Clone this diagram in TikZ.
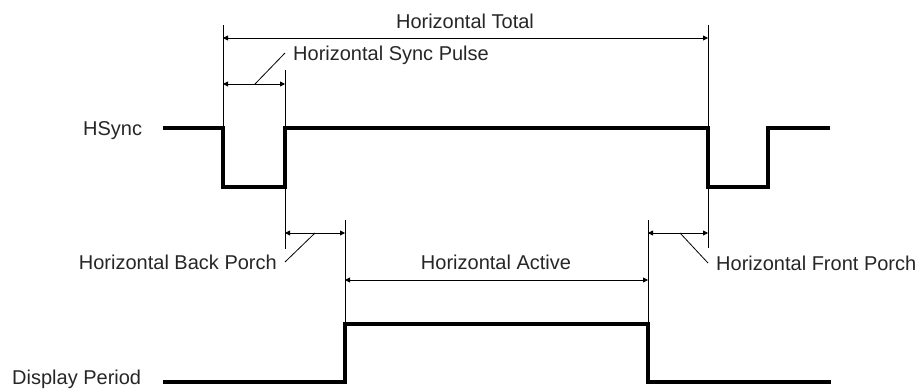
\documentclass[tikz,border=0pt]{standalone}
\usepackage{fontspec}
\setmainfont{Liberation Sans}
\usetikzlibrary{arrows.meta,positioning}

\begin{document}
\begin{tikzpicture}[
	x=1pt, y=-1pt,
	font=\fontsize{20}{24}\selectfont,
	>={Triangle[length=5pt,width=5pt]},
	sig/.style={line width=4pt, line join=miter},
	ext/.style={line width=0.8pt},
	dim/.style={<->, line width=0.8pt},
	lead/.style={line width=0.8pt},
	txt/.style={inner sep=0pt, text=black!85}
]
\path[use as bounding box] (0,0) rectangle (919,389);

% --- Signal labels ---
\node[txt, anchor=base west] (hsync) at (83,135) {HSync};
\node[txt, anchor=base west] (disp) at (12,384.5) {Display Period};

% --- Edge positions ---
\coordinate (hs0) at (163,128);
\coordinate (sf1) at (223,128);
\coordinate (sr1) at (285,128);
\coordinate (sf2) at (708,128);
\coordinate (sr2) at (768,128);
\coordinate (hs1) at (830,128);
\coordinate (dp0) at (163,382);
\coordinate (act0) at (345,324);
\coordinate (act1) at (648,324);
\coordinate (dp1) at (831,382);

% --- Waveforms ---
\draw[sig] (hs0) -- (sf1) -- ++(0,59) -| (sr1) -- (sf2) -- ++(0,59) -| (sr2) -- (hs1);
\draw[sig] (dp0) -| (act0) -- (act1) |- (dp1);

% --- Extension lines ---
\draw[ext] (223,25) -- (223,187);
\draw[ext] (285,70) -- (285,249);
\draw[ext] (708,25) -- (708,248);
\draw[ext] (345,220) -- (act0);
\draw[ext] (648,220) -- (act1);

% --- Dimensions ---
\coordinate (tot0) at (223,38);
\coordinate (tot1) at (708,38);
\coordinate (sp0) at (223,84);
\coordinate (sp1) at (285,84);
\coordinate (bp0) at (285,233);
\coordinate (bp1) at (345,233);
\coordinate (ha0) at (345,280);
\coordinate (ha1) at (648,280);
\coordinate (fp0) at (648,233);
\coordinate (fp1) at (708,233);

\draw[dim] (tot0) -- (tot1);
\draw[dim] (sp0) -- (sp1);
\draw[dim] (bp0) -- (bp1);
\draw[dim] (ha0) -- (ha1);
\draw[dim] (fp0) -- (fp1);

% --- Dimension labels ---
\node[txt, anchor=base] (total) at (465,28) {Horizontal Total};
\node[txt, anchor=base west] (pulse) at (293,60) {Horizontal Sync Pulse};
\node[txt, anchor=base east] (back) at (277,269) {Horizontal Back Porch};
\node[txt, anchor=base] (active) at (496,269) {Horizontal Active};
\node[txt, anchor=base west] (front) at (716,270) {Horizontal Front Porch};

% --- Leaders ---
\coordinate (spl) at (285,53);
\coordinate (bpl) at (285,262);
\coordinate (fpl) at (708,263);
\draw[lead] (255,84) -- (spl);
\draw[lead] (315,233) -- (bpl);
\draw[lead] (680,233) -- (fpl);

\end{tikzpicture}
\end{document}
